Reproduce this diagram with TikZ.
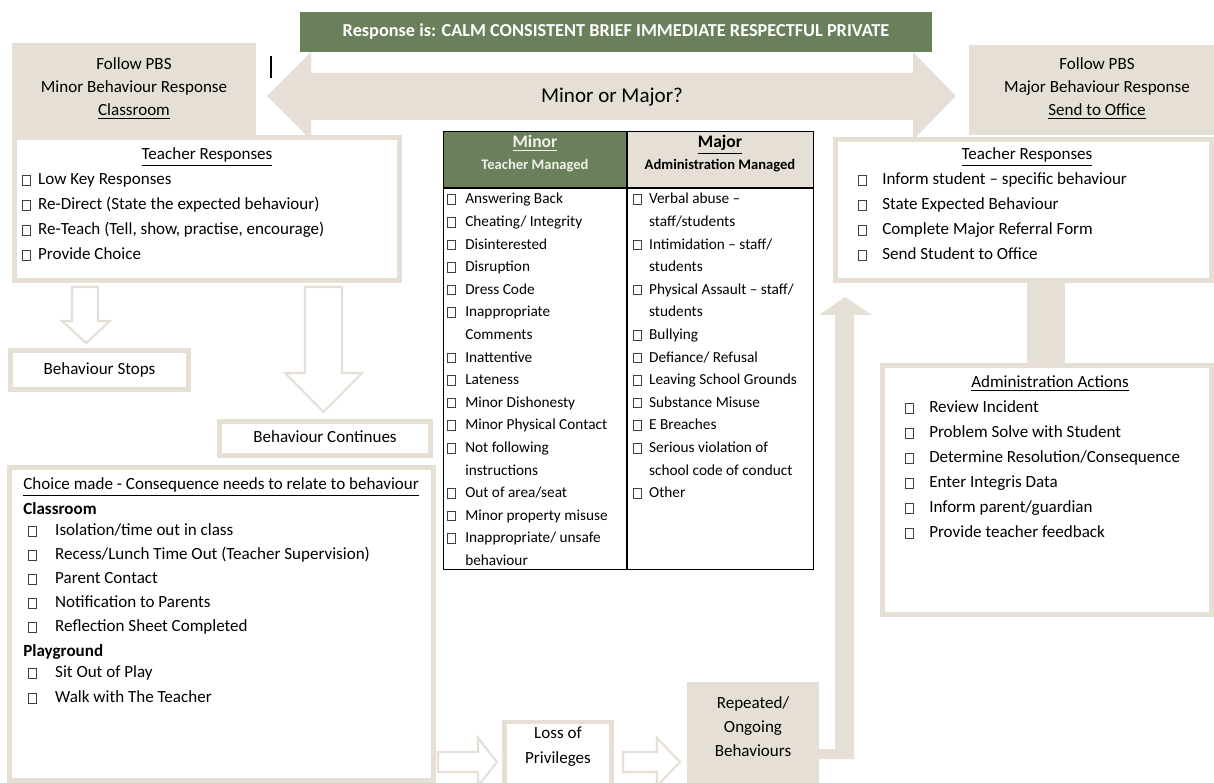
\documentclass[tikz,border=0pt]{standalone}
\usepackage{fontspec}
\setmainfont{Carlito}
\usetikzlibrary{positioning}

\definecolor{pbsbeige}{RGB}{230,223,213}
\definecolor{pbsgreen}{RGB}{106,128,90}
\newcommand{\cb}{{\color{black!75}\fboxsep=0pt\fboxrule=0.5pt\fbox{\phantom{\rule{4pt}{5pt}}}}}
\newcommand{\cbx}[1]{\makebox[#1][l]{\cb}}

\tikzset{
  txt/.style={inner sep=0pt, font=\fontsize{9.7}{12}\selectfont},
  item/.style={txt, anchor=base west},
  small/.style={inner sep=0pt, anchor=base west, font=\fontsize{8.7}{10}\selectfont},
  outbox/.style={draw=pbsbeige, line width=2.8pt, fill=white, inner sep=0pt},
  fillbox/.style={fill=pbsbeige, inner sep=0pt},
  hollow/.style={draw=pbsbeige, line width=1.2pt, fill=white, line join=miter},
}

\begin{document}
\begin{tikzpicture}[x=0.02cm, y=-0.02cm]
 \fill[white] (0,0) rectangle (1214,783);
 \useasboundingbox (0,0) rectangle (1214,783);

	% Minor or Major
 \fill[pbsbeige] (267,96) -- (311,52) -- (311,73) -- (913,73) -- (913,52) -- (956,96)
   -- (913,140) -- (913,120) -- (311,120) -- (311,140) -- cycle;
 \node[txt, anchor=base, font=\fontsize{12}{14}\selectfont] (mm) at (612,103) {Minor or Major?};
 \node[fill=pbsgreen, minimum width=12.64cm, minimum height=0.8cm, inner sep=0pt] (banner) at (616,32) {};
 \node[anchor=base, inner sep=0pt, text=white, font=\bfseries\fontsize{10.4}{12}\selectfont] (bannert) at (616,37)
   {Response is: CALM CONSISTENT BRIEF IMMEDIATE RESPECTFUL PRIVATE};

	% Follow PBS
 \node[fillbox, minimum width=4.88cm, minimum height=1.84cm] (minhead) at (134,89) {};
 \node[txt, anchor=base] (minh1) at (134,70) {Follow PBS};
 \node[txt, anchor=base] (minh2) at (134,93) {Minor Behaviour Response};
 \node[txt, anchor=base] (minh3) at (134,116) {\underline{Classroom}};
 \node[fillbox, minimum width=4.9cm, minimum height=1.8cm] (majhead) at (1091.5,90) {};
 \node[txt, anchor=base] (majh1) at (1097,70) {Follow PBS};
 \node[txt, anchor=base] (majh2) at (1097,93) {Major Behaviour Response};
 \node[txt, anchor=base] (majh3) at (1097,116) {\underline{Send to Office}};
 \draw[line width=0.6pt] (271,56) -- (271,78);

	% Teacher responses (minor)
 \draw[hollow] (72,287) -- (98,287) -- (98,321) -- (110,321) -- (86,343) -- (62,321) -- (72,321) -- cycle;
 \draw[hollow] (305,287) -- (342,287) -- (342,373) -- (362,373) -- (323.5,412) -- (285,373) -- (305,373) -- cycle;
 \node[outbox, minimum width=7.7cm, minimum height=2.86cm] (ltr) at (207,209) {};
 \node[txt, anchor=base] (ltrt) at (207,160) {\underline{Teacher Responses}};
 \foreach \t [count=\i] in {Low Key Responses, Re-Direct (State the expected behaviour),
   {Re-Teach (Tell, show, practise, encourage)}, Provide Choice}
   \node[item] (ltr\i) at (22,{160+25*\i}) {\cbx{9pt}\t};

 \node[outbox, minimum width=3.56cm, minimum height=0.78cm] (stops) at (99.5,370) {};
 \node[txt, anchor=base] (stopst) at (99.5,375) {Behaviour Stops};
 \node[outbox, minimum width=4.22cm, minimum height=0.68cm] (cont) at (325,438.5) {};
 \node[txt, anchor=base] (contt) at (325,443) {Behaviour Continues};

	% Consequences
 \node[outbox, minimum width=8.48cm, minimum height=6.26cm] (choice) at (221.5,624) {};
 \node[item] (choicet) at (23,490) {\underline{Choice made - Consequence needs to relate to behaviour}};
 \node[item, font=\bfseries\fontsize{9.7}{12}\selectfont] (cls) at (23,515) {Classroom};
 \foreach \t [count=\i] in {Isolation/time out in class, Recess/Lunch Time Out (Teacher Supervision),
   Parent Contact, Notification to Parents, Reflection Sheet Completed}
   \node[item] (cls\i) at (28,{512+24*\i}) {\cbx{15.3pt}\t};
 \node[item, font=\bfseries\fontsize{9.7}{12}\selectfont] (play) at (23,657) {Playground};
 \foreach \t [count=\i] in {Sit Out of Play, Walk with The Teacher}
   \node[item] (play\i) at (28,{653+25*\i}) {\cbx{15.3pt}\t};

	% Tableau
 \node[fill=pbsgreen, minimum width=3.68cm, minimum height=1.14cm, anchor=north west, inner sep=0pt] (minhd) at (443,131) {};
 \node[fill=pbsbeige, minimum width=3.72cm, minimum height=1.14cm, anchor=north west, inner sep=0pt] (majhd) at (627,131) {};
 \node[draw, line width=0.6pt, minimum width=7.4cm, minimum height=8.76cm, anchor=north west, inner sep=0pt] (tab) at (443,131) {};
 \draw[line width=0.6pt] (443,188) -- (813,188);
 \draw[line width=0.6pt] (627,131) -- (627,569);
 \node[anchor=base, inner sep=0pt, text=pbsbeige!50!white, font=\bfseries\fontsize{10}{12}\selectfont] (minor) at (535,148) {\underline{Minor}};
 \node[anchor=base, inner sep=0pt, text=pbsbeige!50!white, font=\bfseries\fontsize{8.3}{10}\selectfont] (minorm) at (535,170) {Teacher Managed};
 \node[anchor=base, inner sep=0pt, font=\bfseries\fontsize{10}{12}\selectfont] (major) at (720,148) {\underline{Major}};
 \node[anchor=base, inner sep=0pt, font=\bfseries\fontsize{8.3}{10}\selectfont] (majorm) at (720,170) {Administration Managed};
 \foreach \c/\t [count=\i] in {1/Answering Back, 1/{Cheating/ Integrity}, 1/Disinterested, 1/Disruption,
   1/Dress Code, 1/Inappropriate, 0/Comments, 1/Inattentive, 1/Lateness, 1/Minor Dishonesty,
   1/Minor Physical Contact, 1/Not following, 0/instructions, 1/{Out of area/seat},
   1/Minor property misuse, 1/{Inappropriate/ unsafe}, 0/behaviour}
   \node[small] (mi\i) at (447,{181.4+22.6*\i}) {\ifnum\c=1 \cbx{10.2pt}\else\hspace*{10.2pt}\fi\t};
 \foreach \c/\t [count=\i] in {1/Verbal abuse –, 0/{staff/students}, 1/{Intimidation – staff/}, 0/students,
   1/{Physical Assault – staff/}, 0/students, 1/Bullying, 1/{Defiance/ Refusal},
   1/Leaving School Grounds, 1/Substance Misuse, 1/E Breaches, 1/Serious violation of,
   0/school code of conduct, 1/Other}
   \node[small] (ma\i) at (633,{181.4+22.6*\i}) {\ifnum\c=1 \cbx{9pt}\else\hspace*{9pt}\fi\t};

	% Teacher responses (major) + administration
 \fill[pbsbeige] (1027,280) rectangle (1065,366);
 \node[outbox, minimum width=7.52cm, minimum height=2.82cm] (rtr) at (1023.5,210) {};
 \node[txt, anchor=base] (rtrt) at (1027,160) {\underline{Teacher Responses}};
 \foreach \t [count=\i] in {Inform student – specific behaviour, State Expected Behaviour,
   Complete Major Referral Form, Send Student to Office}
   \node[item] (rtr\i) at (858,{160+25*\i}) {\cbx{13.6pt}\t};
 \node[outbox, minimum width=6.58cm, minimum height=4.98cm] (admin) at (1047,490) {};
 \node[txt, anchor=base] (admint) at (1050,388) {\underline{Administration Actions}};
 \foreach \t [count=\i] in {Review Incident, Problem Solve with Student, Determine Resolution/Consequence,
   Enter Integris Data, Inform parent/guardian, Provide teacher feedback}
   \node[item] (adm\i) at (905,{388+25*\i}) {\cbx{13.6pt}\t};

	% Bas
 \fill[pbsbeige] (819,749) -- (835,749) -- (835,315) -- (819,315) -- (845,297) -- (872,315)
   -- (854,315) -- (854,759) -- (819,759) -- cycle;
 \draw[hollow] (438,752) -- (478,752) -- (478,738) -- (497,762) -- (478,786) -- (478,772) -- (438,772) -- cycle;
 \draw[hollow] (623,752) -- (657,752) -- (657,738) -- (680,762) -- (657,786) -- (657,772) -- (623,772) -- cycle;
 \node[outbox, minimum width=2.14cm, minimum height=1.5cm, anchor=north] (loss) at (558,719.5) {};
 \node[txt, anchor=base] (loss1) at (558,738) {Loss of};
 \node[txt, anchor=base] (loss2) at (558,763) {Privileges};
 \node[fillbox, minimum width=2.64cm, minimum height=2.2cm, anchor=north] (rep) at (753,682) {};
 \node[txt, anchor=base] (rep1) at (753,708) {Repeated/};
 \node[txt, anchor=base] (rep2) at (753,732) {Ongoing};
 \node[txt, anchor=base] (rep3) at (753,756) {Behaviours};
\end{tikzpicture}
\end{document}
